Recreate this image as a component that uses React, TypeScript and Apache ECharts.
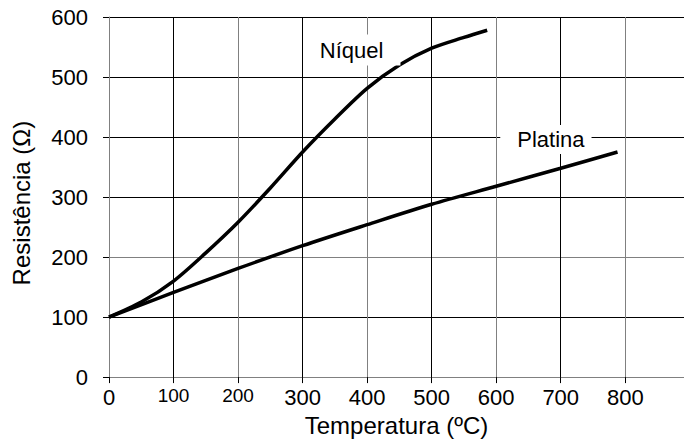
import React, { useEffect, useRef } from "react";
import * as echarts from "echarts";

const niquelT = [0, 50, 100, 150, 200, 250, 300, 350, 400, 450, 500, 550, 586];
const niquelR = [100, 125, 160, 207, 258, 315, 375, 430, 481, 520, 548, 566, 578];

const platinaT = [0, 100, 200, 300, 400, 500, 600, 700, 788];
const platinaR = [100, 141, 181, 219, 254, 288, 318, 348, 375];

const xTicks = [0, 100, 200, 300, 400, 500, 600, 700, 800];
const yTicks = [0, 100, 200, 300, 400, 500, 600];

const niquelLabel = { text: "Níquel", t: 383, r: 545 };
const platinaLabel = { text: "Platina", t: 677, r: 396 };

const FONT = "'Liberation Sans', Arial, Helvetica, sans-serif";

export default function App() {
  const ref = useRef<HTMLDivElement>(null);

  useEffect(() => {
    if (!ref.current) return;
    const chart = echarts.init(ref.current, null, { renderer: "svg" });

    const toPairs = (xs: number[], ys: number[]) => xs.map((x, i) => [x, ys[i]]);

    const labelPoint = (lbl: { text: string; t: number; r: number }, pad: number[]) => ({
      symbol: "rect",
      symbolSize: [1, 1],
      itemStyle: { color: "transparent" },
      silent: true,
      data: [
        {
          coord: [lbl.t, lbl.r],
          label: {
            show: true,
            position: "inside",
            formatter: lbl.text,
            color: "#000",
            fontFamily: FONT,
            fontSize: 22,
            lineHeight: 22,
            backgroundColor: "#fff",
            padding: pad,
          },
        },
      ],
    });

    chart.setOption({
      animation: false,
      backgroundColor: "#fff",
      grid: { left: 109, right: 0, top: 17, bottom: 60, containLabel: false },
      xAxis: {
        type: "value",
        min: 0,
        max: 891,
        interval: 100,
        name: "Temperatura (ºC)",
        nameLocation: "middle",
        nameGap: 34,
        nameTextStyle: { fontFamily: FONT, fontSize: 24, color: "#000" },
        axisLine: { show: true, lineStyle: { color: "#808080", width: 1 } },
        axisTick: { show: true, length: 6, lineStyle: { color: "#000" } },
        axisLabel: {
          margin: 9,
          showMaxLabel: false,
          fontFamily: FONT,
          color: "#000",
          formatter: (v: number) =>
            xTicks.includes(v) ? (v === 100 || v === 200 ? `{s|${v}}` : `{b|${v}}`) : "",
          rich: {
            b: { fontFamily: FONT, fontSize: 22, color: "#000" },
            s: { fontFamily: FONT, fontSize: 19, color: "#000" },
          },
        },
        splitLine: {
          show: true,
          showMaxLine: false,
          lineStyle: { color: ["#808080", "#000"], width: 1 },
        },
      },
      yAxis: {
        type: "value",
        min: 0,
        max: 600,
        interval: 100,
        name: "Resistência (Ω)",
        nameLocation: "middle",
        nameGap: 76,
        nameTextStyle: { fontFamily: FONT, fontSize: 24, color: "#000", padding: [0, 12, 0, 0] },
        axisLine: { show: true, lineStyle: { color: "#808080", width: 1 } },
        axisTick: { show: true, length: 6, lineStyle: { color: "#000" } },
        axisLabel: {
          margin: 21,
          fontFamily: FONT,
          fontSize: 22,
          color: "#000",
          formatter: (v: number) => (yTicks.includes(v) ? String(v) : ""),
        },
        splitLine: {
          show: true,
          lineStyle: {
            color: ["#808080", "#000", "#808080", "#000", "#000", "#000", "#000"],
            width: 1,
          },
        },
      },
      series: [
        {
          name: "Platina",
          type: "line",
          data: toPairs(platinaT, platinaR),
          smooth: 0.3,
          showSymbol: false,
          lineStyle: { color: "#000", width: 3.5 },
          markPoint: labelPoint(platinaLabel, [4, 7, 3, 17]),
        },
        {
          name: "Níquel",
          type: "line",
          data: toPairs(niquelT, niquelR),
          smooth: 0.3,
          showSymbol: false,
          lineStyle: { color: "#000", width: 3.5 },
          markPoint: labelPoint(niquelLabel, [4, 17, 5, 8]),
        },
      ],
    });

    return () => chart.dispose();
  }, []);

  return (
    <div
      ref={ref}
      style={{ position: "fixed", left: 0, top: 0, width: 684, height: 442 }}
    />
  );
}
